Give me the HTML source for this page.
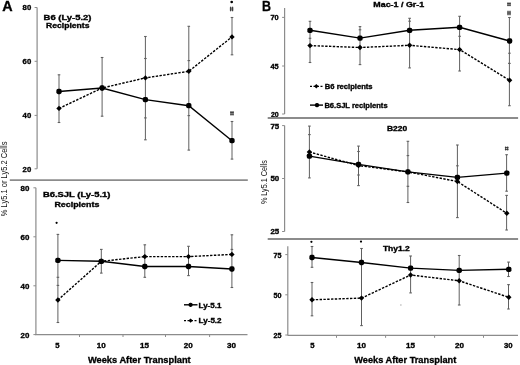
<!DOCTYPE html>
<html><head><meta charset="utf-8"><style>
html,body{margin:0;padding:0;background:#fff;width:520px;height:365px;overflow:hidden}
svg{display:block;font-family:"Liberation Sans", sans-serif;will-change:transform}
</style></head><body>
<svg width="520" height="365" viewBox="0 0 520 365" font-family='"Liberation Sans", sans-serif'>
<rect width="520" height="365" fill="#fff"/>
<text x="2.2" y="10.9" font-size="14" font-weight="bold" text-anchor="start" fill="#000" stroke="#000" stroke-width="0.32" textLength="10.4" lengthAdjust="spacingAndGlyphs" >A</text>
<text x="262.1" y="10.9" font-size="14" font-weight="bold" text-anchor="start" fill="#000" stroke="#000" stroke-width="0.32" textLength="9.0" lengthAdjust="spacingAndGlyphs" >B</text>
<line x1="37.1" y1="7.4" x2="37.1" y2="168.8" stroke="#8c8c8c" stroke-width="1.2" />
<line x1="34.6" y1="7.5" x2="37.1" y2="7.5" stroke="#8c8c8c" stroke-width="1" />
<text x="22.6" y="10.4" font-size="7" font-weight="bold" text-anchor="start" fill="#000" stroke="#000" stroke-width="0.32" textLength="8.6" lengthAdjust="spacingAndGlyphs" >80</text>
<line x1="34.6" y1="61.3" x2="37.1" y2="61.3" stroke="#8c8c8c" stroke-width="1" />
<text x="22.6" y="64.2" font-size="7" font-weight="bold" text-anchor="start" fill="#000" stroke="#000" stroke-width="0.32" textLength="8.6" lengthAdjust="spacingAndGlyphs" >60</text>
<line x1="34.6" y1="115.4" x2="37.1" y2="115.4" stroke="#8c8c8c" stroke-width="1" />
<text x="22.6" y="118.30000000000001" font-size="7" font-weight="bold" text-anchor="start" fill="#000" stroke="#000" stroke-width="0.32" textLength="8.6" lengthAdjust="spacingAndGlyphs" >40</text>
<line x1="34.6" y1="168.8" x2="37.1" y2="168.8" stroke="#8c8c8c" stroke-width="1" />
<text x="22.6" y="171.70000000000002" font-size="7" font-weight="bold" text-anchor="start" fill="#000" stroke="#000" stroke-width="0.32" textLength="8.6" lengthAdjust="spacingAndGlyphs" >20</text>
<text x="43.6" y="19.8" font-size="7" font-weight="bold" text-anchor="start" fill="#000" stroke="#000" stroke-width="0.32" textLength="47.8" lengthAdjust="spacingAndGlyphs" >B6 (Ly-5.2)</text>
<text x="46.1" y="28.2" font-size="7" font-weight="bold" text-anchor="start" fill="#000" stroke="#000" stroke-width="0.32" textLength="43.4" lengthAdjust="spacingAndGlyphs" >Recipients</text>
<line x1="59" y1="74.8" x2="59" y2="122.5" stroke="#606060" stroke-width="1.0" />
<line x1="57.7" y1="74.8" x2="60.3" y2="74.8" stroke="#606060" stroke-width="1.1" />
<line x1="57.7" y1="122.5" x2="60.3" y2="122.5" stroke="#606060" stroke-width="1.1" />
<line x1="102.1" y1="57.5" x2="102.1" y2="116.2" stroke="#606060" stroke-width="1.0" />
<line x1="100.8" y1="57.5" x2="103.39999999999999" y2="57.5" stroke="#606060" stroke-width="1.1" />
<line x1="100.8" y1="116.2" x2="103.39999999999999" y2="116.2" stroke="#606060" stroke-width="1.1" />
<line x1="145.4" y1="36.5" x2="145.4" y2="139.8" stroke="#606060" stroke-width="1.0" />
<line x1="144.1" y1="36.5" x2="146.70000000000002" y2="36.5" stroke="#606060" stroke-width="1.1" />
<line x1="144.1" y1="139.8" x2="146.70000000000002" y2="139.8" stroke="#606060" stroke-width="1.1" />
<line x1="144.1" y1="58.5" x2="146.70000000000002" y2="58.5" stroke="#606060" stroke-width="1.1" />
<line x1="144.1" y1="117.9" x2="146.70000000000002" y2="117.9" stroke="#606060" stroke-width="1.1" />
<line x1="188.8" y1="26.3" x2="188.8" y2="150.1" stroke="#606060" stroke-width="1.0" />
<line x1="187.5" y1="26.3" x2="190.10000000000002" y2="26.3" stroke="#606060" stroke-width="1.1" />
<line x1="187.5" y1="150.1" x2="190.10000000000002" y2="150.1" stroke="#606060" stroke-width="1.1" />
<line x1="187.5" y1="60.6" x2="190.10000000000002" y2="60.6" stroke="#606060" stroke-width="1.1" />
<line x1="187.5" y1="115.6" x2="190.10000000000002" y2="115.6" stroke="#606060" stroke-width="1.1" />
<line x1="232" y1="17.5" x2="232" y2="54.8" stroke="#606060" stroke-width="1.0" />
<line x1="230.7" y1="17.5" x2="233.3" y2="17.5" stroke="#606060" stroke-width="1.1" />
<line x1="230.7" y1="54.8" x2="233.3" y2="54.8" stroke="#606060" stroke-width="1.1" />
<line x1="232" y1="121.5" x2="232" y2="159.1" stroke="#606060" stroke-width="1.0" />
<line x1="230.7" y1="121.5" x2="233.3" y2="121.5" stroke="#606060" stroke-width="1.1" />
<line x1="230.7" y1="159.1" x2="233.3" y2="159.1" stroke="#606060" stroke-width="1.1" />
<polyline points="59,91.5 102.1,88.0 145.4,99.6 188.8,105.7 232,140.7" fill="none" stroke="#000" stroke-width="1.4"/>
<polyline points="59,108.4 102.1,88.0 145.4,77.9 188.8,71.3 232,36.9" fill="none" stroke="#000" stroke-width="1.4" stroke-dasharray="2.4,1.4"/>
<rect x="56.35" y="88.85" width="5.3" height="5.3" rx="1.8" fill="#000"/>
<rect x="99.45" y="85.35" width="5.3" height="5.3" rx="1.8" fill="#000"/>
<rect x="142.75" y="96.95" width="5.3" height="5.3" rx="1.8" fill="#000"/>
<rect x="186.15" y="103.05" width="5.3" height="5.3" rx="1.8" fill="#000"/>
<rect x="229.35" y="138.05" width="5.3" height="5.3" rx="1.8" fill="#000"/>
<path d="M59 105.7L61.7 108.4L59 111.10000000000001L56.3 108.4Z" fill="#000"/>
<path d="M102.1 85.3L104.8 88.0L102.1 90.7L99.39999999999999 88.0Z" fill="#000"/>
<path d="M145.4 75.2L148.1 77.9L145.4 80.60000000000001L142.70000000000002 77.9Z" fill="#000"/>
<path d="M188.8 68.6L191.5 71.3L188.8 74.0L186.10000000000002 71.3Z" fill="#000"/>
<path d="M232 34.199999999999996L234.7 36.9L232 39.6L229.3 36.9Z" fill="#000"/>
<circle cx="231.7" cy="2.0" r="1.35" fill="#000"/>
<path d="M230.60 6.70V11.30M232.60 6.70V11.30M229.80 8.10H233.40M229.80 9.90H233.40" stroke="#333" stroke-width="0.95" fill="none"/>
<path d="M231.00 111.00V115.60M233.00 111.00V115.60M230.20 112.40H233.80M230.20 114.20H233.80" stroke="#333" stroke-width="0.95" fill="none"/>
<line x1="9.8" y1="180.2" x2="247.8" y2="180.2" stroke="#8c8c8c" stroke-width="1.8" />
<line x1="35.9" y1="187.8" x2="35.9" y2="334.6" stroke="#8c8c8c" stroke-width="1.2" />
<line x1="33.4" y1="187.8" x2="35.9" y2="187.8" stroke="#8c8c8c" stroke-width="1" />
<text x="20.599999999999998" y="190.70000000000002" font-size="7" font-weight="bold" text-anchor="start" fill="#000" stroke="#000" stroke-width="0.32" textLength="8.8" lengthAdjust="spacingAndGlyphs" >80</text>
<line x1="33.4" y1="236.8" x2="35.9" y2="236.8" stroke="#8c8c8c" stroke-width="1" />
<text x="20.599999999999998" y="239.70000000000002" font-size="7" font-weight="bold" text-anchor="start" fill="#000" stroke="#000" stroke-width="0.32" textLength="8.8" lengthAdjust="spacingAndGlyphs" >60</text>
<line x1="33.4" y1="285.8" x2="35.9" y2="285.8" stroke="#8c8c8c" stroke-width="1" />
<text x="20.599999999999998" y="288.7" font-size="7" font-weight="bold" text-anchor="start" fill="#000" stroke="#000" stroke-width="0.32" textLength="8.8" lengthAdjust="spacingAndGlyphs" >40</text>
<line x1="33.4" y1="334.6" x2="35.9" y2="334.6" stroke="#8c8c8c" stroke-width="1" />
<text x="20.599999999999998" y="337.5" font-size="7" font-weight="bold" text-anchor="start" fill="#000" stroke="#000" stroke-width="0.32" textLength="8.8" lengthAdjust="spacingAndGlyphs" >20</text>
<line x1="35.0" y1="334.6" x2="247.5" y2="334.6" stroke="#8c8c8c" stroke-width="1.2" />
<line x1="79.5" y1="334.6" x2="79.5" y2="337" stroke="#8c8c8c" stroke-width="1" />
<line x1="123" y1="334.6" x2="123" y2="337" stroke="#8c8c8c" stroke-width="1" />
<line x1="165.5" y1="334.6" x2="165.5" y2="337" stroke="#8c8c8c" stroke-width="1" />
<line x1="209.6" y1="334.6" x2="209.6" y2="337" stroke="#8c8c8c" stroke-width="1" />
<text x="57.5" y="347.8" font-size="7" font-weight="bold" text-anchor="middle" fill="#000" stroke="#000" stroke-width="0.32" textLength="4.3" lengthAdjust="spacingAndGlyphs" >5</text>
<text x="101.3" y="347.8" font-size="7" font-weight="bold" text-anchor="middle" fill="#000" stroke="#000" stroke-width="0.32" textLength="9" lengthAdjust="spacingAndGlyphs" >10</text>
<text x="144.5" y="347.8" font-size="7" font-weight="bold" text-anchor="middle" fill="#000" stroke="#000" stroke-width="0.32" textLength="9" lengthAdjust="spacingAndGlyphs" >15</text>
<text x="188.3" y="347.8" font-size="7" font-weight="bold" text-anchor="middle" fill="#000" stroke="#000" stroke-width="0.32" textLength="9" lengthAdjust="spacingAndGlyphs" >20</text>
<text x="231.4" y="347.8" font-size="7" font-weight="bold" text-anchor="middle" fill="#000" stroke="#000" stroke-width="0.32" textLength="9" lengthAdjust="spacingAndGlyphs" >30</text>
<text x="87.9" y="362.7" font-size="9.6" font-weight="bold" text-anchor="start" fill="#000" stroke="#000" stroke-width="0.32" textLength="102.8" lengthAdjust="spacingAndGlyphs" >Weeks After Transplant</text>
<text x="42.9" y="197.4" font-size="7" font-weight="bold" text-anchor="start" fill="#000" stroke="#000" stroke-width="0.32" textLength="67.5" lengthAdjust="spacingAndGlyphs" >B6.SJL (Ly-5.1)</text>
<text x="54.4" y="206.7" font-size="7" font-weight="bold" text-anchor="start" fill="#000" stroke="#000" stroke-width="0.32" textLength="45.0" lengthAdjust="spacingAndGlyphs" >Recipients</text>
<line x1="57.9" y1="234.4" x2="57.9" y2="322.5" stroke="#606060" stroke-width="1.0" />
<line x1="56.6" y1="234.4" x2="59.199999999999996" y2="234.4" stroke="#606060" stroke-width="1.1" />
<line x1="56.6" y1="322.5" x2="59.199999999999996" y2="322.5" stroke="#606060" stroke-width="1.1" />
<line x1="56.6" y1="277.3" x2="59.199999999999996" y2="277.3" stroke="#606060" stroke-width="1.1" />
<line x1="56.6" y1="285.4" x2="59.199999999999996" y2="285.4" stroke="#606060" stroke-width="1.1" />
<line x1="101.3" y1="249.4" x2="101.3" y2="273.1" stroke="#606060" stroke-width="1.0" />
<line x1="100.0" y1="249.4" x2="102.6" y2="249.4" stroke="#606060" stroke-width="1.1" />
<line x1="100.0" y1="273.1" x2="102.6" y2="273.1" stroke="#606060" stroke-width="1.1" />
<line x1="144.8" y1="244.8" x2="144.8" y2="277.3" stroke="#606060" stroke-width="1.0" />
<line x1="143.5" y1="244.8" x2="146.10000000000002" y2="244.8" stroke="#606060" stroke-width="1.1" />
<line x1="143.5" y1="277.3" x2="146.10000000000002" y2="277.3" stroke="#606060" stroke-width="1.1" />
<line x1="188.5" y1="246.3" x2="188.5" y2="275.6" stroke="#606060" stroke-width="1.0" />
<line x1="187.2" y1="246.3" x2="189.8" y2="246.3" stroke="#606060" stroke-width="1.1" />
<line x1="187.2" y1="275.6" x2="189.8" y2="275.6" stroke="#606060" stroke-width="1.1" />
<line x1="231.9" y1="234.8" x2="231.9" y2="287.5" stroke="#606060" stroke-width="1.0" />
<line x1="230.6" y1="234.8" x2="233.20000000000002" y2="234.8" stroke="#606060" stroke-width="1.1" />
<line x1="230.6" y1="287.5" x2="233.20000000000002" y2="287.5" stroke="#606060" stroke-width="1.1" />
<line x1="230.6" y1="249.4" x2="233.20000000000002" y2="249.4" stroke="#606060" stroke-width="1.1" />
<polyline points="57.9,260.4 101.3,261.3 144.8,266.5 188.5,266.5 231.9,269.0" fill="none" stroke="#000" stroke-width="1.4"/>
<polyline points="57.9,300.0 101.3,261.3 144.8,256.6 188.5,256.6 231.9,254.4" fill="none" stroke="#000" stroke-width="1.4" stroke-dasharray="2.4,1.4"/>
<rect x="55.25" y="257.75" width="5.3" height="5.3" rx="1.8" fill="#000"/>
<rect x="98.65" y="258.65" width="5.3" height="5.3" rx="1.8" fill="#000"/>
<rect x="142.15" y="263.85" width="5.3" height="5.3" rx="1.8" fill="#000"/>
<rect x="185.85" y="263.85" width="5.3" height="5.3" rx="1.8" fill="#000"/>
<rect x="229.25" y="266.35" width="5.3" height="5.3" rx="1.8" fill="#000"/>
<path d="M57.9 297.3L60.6 300.0L57.9 302.7L55.199999999999996 300.0Z" fill="#000"/>
<path d="M101.3 258.6L104.0 261.3L101.3 264.0L98.6 261.3Z" fill="#000"/>
<path d="M144.8 253.90000000000003L147.5 256.6L144.8 259.3L142.10000000000002 256.6Z" fill="#000"/>
<path d="M188.5 253.90000000000003L191.2 256.6L188.5 259.3L185.8 256.6Z" fill="#000"/>
<path d="M231.9 251.70000000000002L234.6 254.4L231.9 257.1L229.20000000000002 254.4Z" fill="#000"/>
<circle cx="56.6" cy="222.8" r="1.1" fill="#000"/>
<line x1="184" y1="304.8" x2="197.5" y2="304.8" stroke="#000" stroke-width="1.4" />
<rect x="188.50" y="302.70" width="4.2" height="4.2" rx="1.8" fill="#000"/>
<text x="198.6" y="307.6" font-size="7" font-weight="bold" text-anchor="start" fill="#000" stroke="#000" stroke-width="0.32" textLength="22.8" lengthAdjust="spacingAndGlyphs" >Ly-5.1</text>
<line x1="184" y1="320.6" x2="197.5" y2="320.6" stroke="#000" stroke-width="1.3" stroke-dasharray="2,1.5"/>
<path d="M190.6 318.40000000000003L192.79999999999998 320.6L190.6 322.8L188.4 320.6Z" fill="#000"/>
<text x="198.6" y="323.4" font-size="7" font-weight="bold" text-anchor="start" fill="#000" stroke="#000" stroke-width="0.32" textLength="23.0" lengthAdjust="spacingAndGlyphs" >Ly-5.2</text>
<text x="0" y="0" font-size="8.4" text-anchor="middle" fill="#111" textLength="74.6" lengthAdjust="spacingAndGlyphs" transform="translate(7.1,178.9) rotate(-90)">% Ly5.1 or Ly5.2 Cells</text>
<line x1="284.6" y1="8.1" x2="284.6" y2="114" stroke="#8c8c8c" stroke-width="1.2" />
<line x1="282.1" y1="17.4" x2="284.6" y2="17.4" stroke="#8c8c8c" stroke-width="1" />
<text x="270.5" y="20.299999999999997" font-size="7" font-weight="bold" text-anchor="start" fill="#000" stroke="#000" stroke-width="0.32" textLength="8.2" lengthAdjust="spacingAndGlyphs" >70</text>
<line x1="282.1" y1="66.0" x2="284.6" y2="66.0" stroke="#8c8c8c" stroke-width="1" />
<text x="270.5" y="68.9" font-size="7" font-weight="bold" text-anchor="start" fill="#000" stroke="#000" stroke-width="0.32" textLength="8.2" lengthAdjust="spacingAndGlyphs" >45</text>
<line x1="282.1" y1="114.0" x2="284.6" y2="114.0" stroke="#8c8c8c" stroke-width="1" />
<text x="270.9" y="116.9" font-size="7" font-weight="bold" text-anchor="start" fill="#000" stroke="#000" stroke-width="0.32" textLength="7.8" lengthAdjust="spacingAndGlyphs" >20</text>
<text x="373.3" y="6.7" font-size="7" font-weight="bold" text-anchor="start" fill="#000" stroke="#000" stroke-width="0.32" textLength="50.9" lengthAdjust="spacingAndGlyphs" >Mac-1 / Gr-1</text>
<line x1="310" y1="21.3" x2="310" y2="62.5" stroke="#606060" stroke-width="1.0" />
<line x1="308.7" y1="21.3" x2="311.3" y2="21.3" stroke="#606060" stroke-width="1.1" />
<line x1="308.7" y1="62.5" x2="311.3" y2="62.5" stroke="#606060" stroke-width="1.1" />
<line x1="308.7" y1="38.3" x2="311.3" y2="38.3" stroke="#606060" stroke-width="1.1" />
<line x1="360" y1="26.6" x2="360" y2="64.6" stroke="#606060" stroke-width="1.0" />
<line x1="358.7" y1="26.6" x2="361.3" y2="26.6" stroke="#606060" stroke-width="1.1" />
<line x1="358.7" y1="64.6" x2="361.3" y2="64.6" stroke="#606060" stroke-width="1.1" />
<line x1="358.7" y1="29.8" x2="361.3" y2="29.8" stroke="#606060" stroke-width="1.1" />
<line x1="409.6" y1="18.3" x2="409.6" y2="67.9" stroke="#606060" stroke-width="1.0" />
<line x1="408.3" y1="18.3" x2="410.90000000000003" y2="18.3" stroke="#606060" stroke-width="1.1" />
<line x1="408.3" y1="67.9" x2="410.90000000000003" y2="67.9" stroke="#606060" stroke-width="1.1" />
<line x1="408.3" y1="21.2" x2="410.90000000000003" y2="21.2" stroke="#606060" stroke-width="1.1" />
<line x1="459.6" y1="16.3" x2="459.6" y2="71.0" stroke="#606060" stroke-width="1.0" />
<line x1="458.3" y1="16.3" x2="460.90000000000003" y2="16.3" stroke="#606060" stroke-width="1.1" />
<line x1="458.3" y1="71.0" x2="460.90000000000003" y2="71.0" stroke="#606060" stroke-width="1.1" />
<line x1="458.3" y1="36.3" x2="460.90000000000003" y2="36.3" stroke="#606060" stroke-width="1.1" />
<line x1="509.4" y1="17.5" x2="509.4" y2="105.7" stroke="#606060" stroke-width="1.0" />
<line x1="508.09999999999997" y1="17.5" x2="510.7" y2="17.5" stroke="#606060" stroke-width="1.1" />
<line x1="508.09999999999997" y1="105.7" x2="510.7" y2="105.7" stroke="#606060" stroke-width="1.1" />
<line x1="508.09999999999997" y1="53.2" x2="510.7" y2="53.2" stroke="#606060" stroke-width="1.1" />
<line x1="508.09999999999997" y1="63.4" x2="510.7" y2="63.4" stroke="#606060" stroke-width="1.1" />
<polyline points="310,30.3 360,38.1 409.6,30.3 459.6,27.3 509.6,41.0" fill="none" stroke="#000" stroke-width="1.4"/>
<polyline points="310,45.6 360,47.5 409.6,45.3 459.6,49.6 509.6,80.3" fill="none" stroke="#000" stroke-width="1.4" stroke-dasharray="2.4,1.4"/>
<rect x="307.35" y="27.65" width="5.3" height="5.3" rx="1.8" fill="#000"/>
<rect x="357.35" y="35.45" width="5.3" height="5.3" rx="1.8" fill="#000"/>
<rect x="406.95" y="27.65" width="5.3" height="5.3" rx="1.8" fill="#000"/>
<rect x="456.95" y="24.65" width="5.3" height="5.3" rx="1.8" fill="#000"/>
<rect x="506.95" y="38.35" width="5.3" height="5.3" rx="1.8" fill="#000"/>
<path d="M310 42.9L312.7 45.6L310 48.300000000000004L307.3 45.6Z" fill="#000"/>
<path d="M360 44.8L362.7 47.5L360 50.2L357.3 47.5Z" fill="#000"/>
<path d="M409.6 42.599999999999994L412.3 45.3L409.6 48.0L406.90000000000003 45.3Z" fill="#000"/>
<path d="M459.6 46.9L462.3 49.6L459.6 52.300000000000004L456.90000000000003 49.6Z" fill="#000"/>
<path d="M509.6 77.6L512.3000000000001 80.3L509.6 83.0L506.90000000000003 80.3Z" fill="#000"/>
<path d="M508.00 2.40V6.20M510.00 2.40V6.20M507.20 3.40H510.80M507.20 5.20H510.80" stroke="#333" stroke-width="0.95" fill="none"/>
<path d="M508.00 10.70V15.30M510.00 10.70V15.30M507.20 12.10H510.80M507.20 13.90H510.80" stroke="#333" stroke-width="0.95" fill="none"/>
<line x1="310" y1="86.3" x2="323.8" y2="86.3" stroke="#000" stroke-width="1.3" stroke-dasharray="2,1.5"/>
<path d="M316.3 84.1L318.5 86.3L316.3 88.5L314.1 86.3Z" fill="#000"/>
<text x="324.8" y="88.9" font-size="7" font-weight="bold" text-anchor="start" fill="#000" stroke="#000" stroke-width="0.32" textLength="47.8" lengthAdjust="spacingAndGlyphs" >B6 recipients</text>
<line x1="310" y1="105.1" x2="323" y2="105.1" stroke="#000" stroke-width="1.4" />
<rect x="314.90" y="103.00" width="4.2" height="4.2" rx="1.8" fill="#000"/>
<text x="324.4" y="107.8" font-size="7" font-weight="bold" text-anchor="start" fill="#000" stroke="#000" stroke-width="0.32" textLength="63.2" lengthAdjust="spacingAndGlyphs" >B6.SJL recipients</text>
<line x1="267.7" y1="118.0" x2="518.1" y2="118.0" stroke="#8c8c8c" stroke-width="1.8" />
<line x1="284.6" y1="125.4" x2="284.6" y2="231.5" stroke="#8c8c8c" stroke-width="1.2" />
<line x1="282.1" y1="125.6" x2="284.6" y2="125.6" stroke="#8c8c8c" stroke-width="1" />
<text x="270.4" y="128.5" font-size="7" font-weight="bold" text-anchor="start" fill="#000" stroke="#000" stroke-width="0.32" textLength="8.8" lengthAdjust="spacingAndGlyphs" >75</text>
<line x1="282.1" y1="178.5" x2="284.6" y2="178.5" stroke="#8c8c8c" stroke-width="1" />
<text x="270.4" y="181.4" font-size="7" font-weight="bold" text-anchor="start" fill="#000" stroke="#000" stroke-width="0.32" textLength="8.8" lengthAdjust="spacingAndGlyphs" >50</text>
<line x1="282.1" y1="231.5" x2="284.6" y2="231.5" stroke="#8c8c8c" stroke-width="1" />
<text x="270.4" y="234.4" font-size="7" font-weight="bold" text-anchor="start" fill="#000" stroke="#000" stroke-width="0.32" textLength="8.8" lengthAdjust="spacingAndGlyphs" >25</text>
<text x="386.9" y="130.8" font-size="7" font-weight="bold" text-anchor="start" fill="#000" stroke="#000" stroke-width="0.32" textLength="20.2" lengthAdjust="spacingAndGlyphs" >B220</text>
<line x1="309.4" y1="126.1" x2="309.4" y2="177.9" stroke="#606060" stroke-width="1.0" />
<line x1="308.09999999999997" y1="126.1" x2="310.7" y2="126.1" stroke="#606060" stroke-width="1.1" />
<line x1="308.09999999999997" y1="177.9" x2="310.7" y2="177.9" stroke="#606060" stroke-width="1.1" />
<line x1="308.09999999999997" y1="134.6" x2="310.7" y2="134.6" stroke="#606060" stroke-width="1.1" />
<line x1="358.5" y1="146.1" x2="358.5" y2="185.6" stroke="#606060" stroke-width="1.0" />
<line x1="357.2" y1="146.1" x2="359.8" y2="146.1" stroke="#606060" stroke-width="1.1" />
<line x1="357.2" y1="185.6" x2="359.8" y2="185.6" stroke="#606060" stroke-width="1.1" />
<line x1="357.2" y1="151.5" x2="359.8" y2="151.5" stroke="#606060" stroke-width="1.1" />
<line x1="357.2" y1="175" x2="359.8" y2="175" stroke="#606060" stroke-width="1.1" />
<line x1="407.9" y1="141.3" x2="407.9" y2="202.5" stroke="#606060" stroke-width="1.0" />
<line x1="406.59999999999997" y1="141.3" x2="409.2" y2="141.3" stroke="#606060" stroke-width="1.1" />
<line x1="406.59999999999997" y1="202.5" x2="409.2" y2="202.5" stroke="#606060" stroke-width="1.1" />
<line x1="406.59999999999997" y1="155.6" x2="409.2" y2="155.6" stroke="#606060" stroke-width="1.1" />
<line x1="406.59999999999997" y1="186.3" x2="409.2" y2="186.3" stroke="#606060" stroke-width="1.1" />
<line x1="457.4" y1="145.0" x2="457.4" y2="217.6" stroke="#606060" stroke-width="1.0" />
<line x1="456.09999999999997" y1="145.0" x2="458.7" y2="145.0" stroke="#606060" stroke-width="1.1" />
<line x1="456.09999999999997" y1="217.6" x2="458.7" y2="217.6" stroke="#606060" stroke-width="1.1" />
<line x1="456.09999999999997" y1="165.8" x2="458.7" y2="165.8" stroke="#606060" stroke-width="1.1" />
<line x1="506.6" y1="154.7" x2="506.6" y2="191.2" stroke="#606060" stroke-width="1.0" />
<line x1="505.3" y1="154.7" x2="507.90000000000003" y2="154.7" stroke="#606060" stroke-width="1.1" />
<line x1="505.3" y1="191.2" x2="507.90000000000003" y2="191.2" stroke="#606060" stroke-width="1.1" />
<line x1="506.6" y1="195.4" x2="506.6" y2="230.0" stroke="#606060" stroke-width="1.0" />
<line x1="505.3" y1="195.4" x2="507.90000000000003" y2="195.4" stroke="#606060" stroke-width="1.1" />
<line x1="505.3" y1="230.0" x2="507.90000000000003" y2="230.0" stroke="#606060" stroke-width="1.1" />
<polyline points="309.4,156.1 358.5,164.4 407.9,171.9 457.4,177.4 506.8,173.1" fill="none" stroke="#000" stroke-width="1.4"/>
<polyline points="309.4,152.0 358.5,165.6 407.9,171.9 457.4,181.5 506.8,213.3" fill="none" stroke="#000" stroke-width="1.4" stroke-dasharray="2.4,1.4"/>
<rect x="306.75" y="153.45" width="5.3" height="5.3" rx="1.8" fill="#000"/>
<rect x="355.85" y="161.75" width="5.3" height="5.3" rx="1.8" fill="#000"/>
<rect x="405.25" y="169.25" width="5.3" height="5.3" rx="1.8" fill="#000"/>
<rect x="454.75" y="174.75" width="5.3" height="5.3" rx="1.8" fill="#000"/>
<rect x="504.15" y="170.45" width="5.3" height="5.3" rx="1.8" fill="#000"/>
<path d="M309.4 149.3L312.09999999999997 152.0L309.4 154.7L306.7 152.0Z" fill="#000"/>
<path d="M358.5 162.9L361.2 165.6L358.5 168.29999999999998L355.8 165.6Z" fill="#000"/>
<path d="M407.9 169.20000000000002L410.59999999999997 171.9L407.9 174.6L405.2 171.9Z" fill="#000"/>
<path d="M457.4 178.8L460.09999999999997 181.5L457.4 184.2L454.7 181.5Z" fill="#000"/>
<path d="M506.8 210.60000000000002L509.5 213.3L506.8 216.0L504.1 213.3Z" fill="#000"/>
<path d="M505.70 146.50V150.50M507.70 146.50V150.50M504.90 147.60H508.50M504.90 149.40H508.50" stroke="#333" stroke-width="0.95" fill="none"/>
<text x="0" y="0" font-size="8.2" text-anchor="middle" fill="#111" textLength="44" lengthAdjust="spacingAndGlyphs" transform="translate(266.9,182.1) rotate(-90)">% Ly5.1 Cells</text>
<line x1="267.7" y1="239.0" x2="518.1" y2="239.0" stroke="#8c8c8c" stroke-width="1.8" />
<line x1="287.8" y1="246.3" x2="287.8" y2="335.4" stroke="#8c8c8c" stroke-width="1.2" />
<line x1="285.3" y1="254.6" x2="287.8" y2="254.6" stroke="#8c8c8c" stroke-width="1" />
<text x="273.6" y="257.5" font-size="7" font-weight="bold" text-anchor="start" fill="#000" stroke="#000" stroke-width="0.32" textLength="8.0" lengthAdjust="spacingAndGlyphs" >75</text>
<line x1="285.3" y1="294.8" x2="287.8" y2="294.8" stroke="#8c8c8c" stroke-width="1" />
<text x="273.6" y="297.7" font-size="7" font-weight="bold" text-anchor="start" fill="#000" stroke="#000" stroke-width="0.32" textLength="8.0" lengthAdjust="spacingAndGlyphs" >50</text>
<line x1="285.3" y1="335.0" x2="287.8" y2="335.0" stroke="#8c8c8c" stroke-width="1" />
<text x="273.6" y="337.9" font-size="7" font-weight="bold" text-anchor="start" fill="#000" stroke="#000" stroke-width="0.32" textLength="8.0" lengthAdjust="spacingAndGlyphs" >25</text>
<line x1="287.8" y1="335.4" x2="518.0" y2="335.4" stroke="#8c8c8c" stroke-width="1.2" />
<line x1="336.5" y1="335.4" x2="336.5" y2="337.8" stroke="#8c8c8c" stroke-width="1" />
<line x1="385.6" y1="335.4" x2="385.6" y2="337.8" stroke="#8c8c8c" stroke-width="1" />
<line x1="434.6" y1="335.4" x2="434.6" y2="337.8" stroke="#8c8c8c" stroke-width="1" />
<line x1="483.5" y1="335.4" x2="483.5" y2="337.8" stroke="#8c8c8c" stroke-width="1" />
<text x="312.3" y="347.7" font-size="7" font-weight="bold" text-anchor="middle" fill="#000" stroke="#000" stroke-width="0.32" textLength="4.3" lengthAdjust="spacingAndGlyphs" >5</text>
<text x="361.5" y="347.7" font-size="7" font-weight="bold" text-anchor="middle" fill="#000" stroke="#000" stroke-width="0.32" textLength="9" lengthAdjust="spacingAndGlyphs" >10</text>
<text x="410.5" y="347.7" font-size="7" font-weight="bold" text-anchor="middle" fill="#000" stroke="#000" stroke-width="0.32" textLength="9" lengthAdjust="spacingAndGlyphs" >15</text>
<text x="459.5" y="347.7" font-size="7" font-weight="bold" text-anchor="middle" fill="#000" stroke="#000" stroke-width="0.32" textLength="9" lengthAdjust="spacingAndGlyphs" >20</text>
<text x="508.3" y="347.7" font-size="7" font-weight="bold" text-anchor="middle" fill="#000" stroke="#000" stroke-width="0.32" textLength="8.6" lengthAdjust="spacingAndGlyphs" >30</text>
<text x="354.3" y="362.7" font-size="9.6" font-weight="bold" text-anchor="start" fill="#000" stroke="#000" stroke-width="0.32" textLength="102.0" lengthAdjust="spacingAndGlyphs" >Weeks After Transplant</text>
<text x="382.9" y="251.3" font-size="7" font-weight="bold" text-anchor="start" fill="#000" stroke="#000" stroke-width="0.32" textLength="26.9" lengthAdjust="spacingAndGlyphs" >Thy1.2</text>
<line x1="312" y1="246.5" x2="312" y2="267.3" stroke="#606060" stroke-width="1.0" />
<line x1="310.7" y1="246.5" x2="313.3" y2="246.5" stroke="#606060" stroke-width="1.1" />
<line x1="310.7" y1="267.3" x2="313.3" y2="267.3" stroke="#606060" stroke-width="1.1" />
<line x1="312" y1="282.5" x2="312" y2="315.8" stroke="#606060" stroke-width="1.0" />
<line x1="310.7" y1="282.5" x2="313.3" y2="282.5" stroke="#606060" stroke-width="1.1" />
<line x1="310.7" y1="315.8" x2="313.3" y2="315.8" stroke="#606060" stroke-width="1.1" />
<line x1="361.5" y1="248.5" x2="361.5" y2="325.6" stroke="#606060" stroke-width="1.0" />
<line x1="360.2" y1="248.5" x2="362.8" y2="248.5" stroke="#606060" stroke-width="1.1" />
<line x1="360.2" y1="325.6" x2="362.8" y2="325.6" stroke="#606060" stroke-width="1.1" />
<line x1="410.6" y1="256.0" x2="410.6" y2="292.9" stroke="#606060" stroke-width="1.0" />
<line x1="409.3" y1="256.0" x2="411.90000000000003" y2="256.0" stroke="#606060" stroke-width="1.1" />
<line x1="409.3" y1="292.9" x2="411.90000000000003" y2="292.9" stroke="#606060" stroke-width="1.1" />
<line x1="459.2" y1="255.5" x2="459.2" y2="305.0" stroke="#606060" stroke-width="1.0" />
<line x1="457.9" y1="255.5" x2="460.5" y2="255.5" stroke="#606060" stroke-width="1.1" />
<line x1="457.9" y1="305.0" x2="460.5" y2="305.0" stroke="#606060" stroke-width="1.1" />
<line x1="508.5" y1="262.1" x2="508.5" y2="276.5" stroke="#606060" stroke-width="1.0" />
<line x1="507.2" y1="262.1" x2="509.8" y2="262.1" stroke="#606060" stroke-width="1.1" />
<line x1="507.2" y1="276.5" x2="509.8" y2="276.5" stroke="#606060" stroke-width="1.1" />
<line x1="508.5" y1="284.6" x2="508.5" y2="309.0" stroke="#606060" stroke-width="1.0" />
<line x1="507.2" y1="284.6" x2="509.8" y2="284.6" stroke="#606060" stroke-width="1.1" />
<line x1="507.2" y1="309.0" x2="509.8" y2="309.0" stroke="#606060" stroke-width="1.1" />
<polyline points="312,257.5 361.5,262.5 410.6,268.1 459.2,270.4 508.8,269.3" fill="none" stroke="#000" stroke-width="1.4"/>
<polyline points="312,299.8 361.5,298.1 410.6,275.0 459.2,280.8 508.8,297.3" fill="none" stroke="#000" stroke-width="1.4" stroke-dasharray="2.4,1.4"/>
<rect x="309.35" y="254.85" width="5.3" height="5.3" rx="1.8" fill="#000"/>
<rect x="358.85" y="259.85" width="5.3" height="5.3" rx="1.8" fill="#000"/>
<rect x="407.95" y="265.45" width="5.3" height="5.3" rx="1.8" fill="#000"/>
<rect x="456.55" y="267.75" width="5.3" height="5.3" rx="1.8" fill="#000"/>
<rect x="506.15" y="266.65" width="5.3" height="5.3" rx="1.8" fill="#000"/>
<path d="M312 297.1L314.7 299.8L312 302.5L309.3 299.8Z" fill="#000"/>
<path d="M361.5 295.40000000000003L364.2 298.1L361.5 300.8L358.8 298.1Z" fill="#000"/>
<path d="M410.6 272.3L413.3 275.0L410.6 277.7L407.90000000000003 275.0Z" fill="#000"/>
<path d="M459.2 278.1L461.9 280.8L459.2 283.5L456.5 280.8Z" fill="#000"/>
<path d="M508.8 294.6L511.5 297.3L508.8 300.0L506.1 297.3Z" fill="#000"/>
<circle cx="311.4" cy="241.8" r="1.1" fill="#000"/>
<line x1="400.9" y1="304" x2="400.9" y2="306" stroke="#aaa" stroke-width="0.8" />
<circle cx="361.0" cy="241.6" r="1.1" fill="#000"/>
</svg>
</body></html>
